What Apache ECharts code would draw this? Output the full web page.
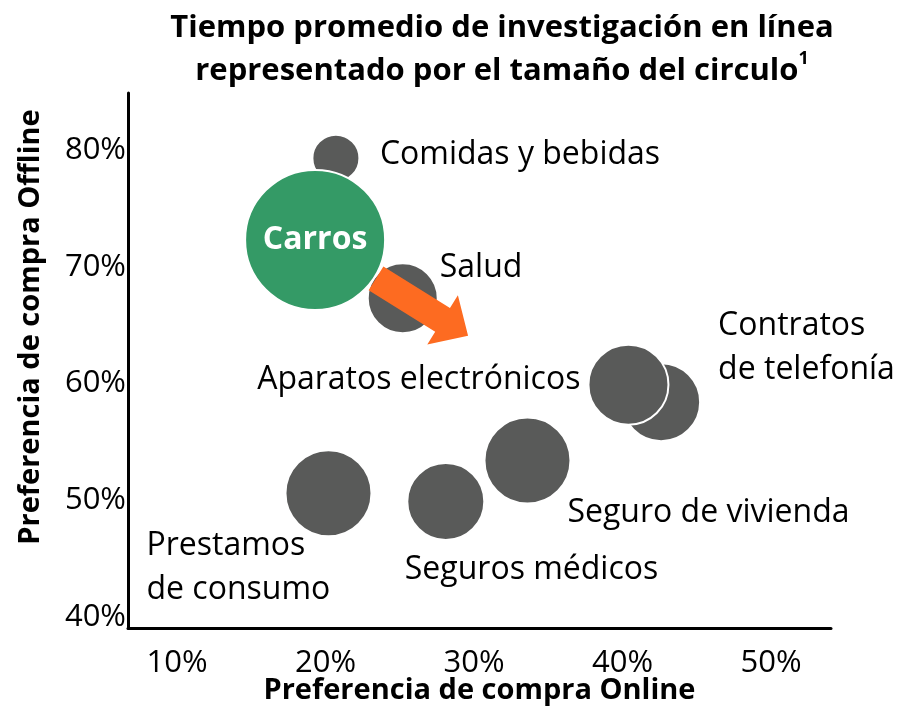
<!DOCTYPE html>
<html><head><meta charset="utf-8">
<script src="https://cdn.jsdelivr.net/npm/echarts@6/dist/echarts.min.js"></script>
<style>html,body{margin:0;padding:0;background:#fff}#c{width:901px;height:707px}</style>
</head><body><div id="c"></div>
<script>
// ---- data ----
const categorias = ['Comidas y bebidas', 'Salud', 'Contratos\nde telefonía', 'Aparatos electrónicos', 'Seguro de vivienda', 'Seguros médicos', 'Prestamos\nde consumo', 'Carros'];
const compraOnline = [20.7, 25.2, 42.6, 40.4, 33.6, 28.1, 20.2, 19.3];
const compraOffline = [79.3, 67.3, 58.4, 59.9, 53.4, 49.9, 50.6, 72.3];
const tiempoInvestigacion = [47, 70, 78, 80, 86, 77, 86, 140];
const xTicks = [10, 20, 30, 40, 50];
const yTicks = [40, 50, 60, 70, 80];
const flechaDesde = [23.4, 69.0];
const flechaHasta = [29.6, 64.1];

// ---- styling ----
const FONT = '"Open Sans"';
const GRAY = '#595a59';
const GREEN = '#349a66';
const ORANGE = '#fd6b21';
const labelCfg = {
  'Comidas y bebidas': { offset: [44, -3], align: 'left' },
  'Salud': { offset: [37, -30], align: 'left' },
  'Contratos\nde telefonía': { offset: [57, -54], align: 'left' },
  'Aparatos electrónicos': { offset: [-48, -5], align: 'right' },
  'Seguro de vivienda': { offset: [40, 52], align: 'left' },
  'Seguros médicos': { offset: [-41, 68], align: 'left' },
  'Prestamos\nde consumo': { offset: [-182, 75], align: 'left' }
};

const bubbleData = categorias.map((n, i) => {
  const isCar = n === 'Carros';
  const lc = labelCfg[n] || { offset: [0, 0], align: 'center' };
  return {
    name: n,
    value: [compraOnline[i], compraOffline[i], tiempoInvestigacion[i]],
    itemStyle: { color: isCar ? GREEN : GRAY },
    label: isCar ? {
      show: true, position: 'inside', formatter: '{b}', color: '#fff', fontWeight: 'bold', fontSize: 32, fontFamily: FONT
    } : {
      show: true, position: 'inside', formatter: '{b}', offset: lc.offset, align: lc.align, verticalAlign: 'middle',
      color: '#000', fontSize: 32, fontFamily: FONT, lineHeight: 44
    }
  };
});

const chart = echarts.init(document.getElementById('c'), null, { renderer: 'canvas' });
chart.setOption({
  animation: false,
  backgroundColor: '#fff',
  grid: { left: 128, right: 70, top: 93, bottom: 79, outerBoundsMode: 'none', containLabel: false },
  xAxis: {
    type: 'value', min: 6.70, max: 54.04,
    axisLine: { show: true, lineStyle: { color: '#000', width: 3 } },
    axisTick: { show: false }, splitLine: { show: false },
    axisLabel: { customValues: xTicks, formatter: '{value}%', color: '#000', fontSize: 31, fontFamily: FONT, margin: 20 },
    name: 'Preferencia de compra Online', nameLocation: 'middle', nameGap: 48, nameMoveOverlap: false,
    nameTextStyle: { color: '#000', fontSize: 29, fontWeight: 'bold', fontFamily: FONT }
  },
  yAxis: {
    type: 'value', min: 39.06, max: 84.88,
    axisLine: { show: true, lineStyle: { color: '#000', width: 3 } },
    axisTick: { show: false }, splitLine: { show: false },
    axisLabel: { customValues: yTicks, formatter: '{value}%', color: '#000', fontSize: 31, fontFamily: FONT, margin: 2 }
  },
  graphic: [
    {
      type: 'text', x: 502, y: 7, z: 10,
      style: {
        text: 'Tiempo promedio de investigación en línea\nrepresentado por el tamaño del circulo{sup|1}',
        font: 'bold 31px ' + FONT, fill: '#000', align: 'center', lineHeight: 43,
        rich: { sup: { fontSize: 18, fontWeight: 'bold', fontFamily: 'Open Sans', verticalAlign: 'top', padding: [0, 0, 14, 0], fill: '#000' } }
      }
    },
    {
      type: 'text', x: 31, y: 327, rotation: Math.PI / 2, z: 10,
      style: { text: 'Preferencia de compra Offline', font: 'bold 29px ' + FONT, fill: '#000', align: 'center', verticalAlign: 'middle' }
    }
  ],
  series: [
    {
      type: 'scatter',
      data: bubbleData,
      symbolSize: v => v[2],
      itemStyle: { borderColor: '#fff', borderWidth: 2, opacity: 1 },
      emphasis: { disabled: true }
    },
    {
      type: 'custom',
      data: [[flechaDesde[0], flechaDesde[1], flechaHasta[0], flechaHasta[1]]],
      encode: { x: [0, 2], y: [1, 3] },
      z: 5,
      renderItem: (params, api) => {
        const a = api.coord([api.value(0), api.value(1)]);
        const b = api.coord([api.value(2), api.value(3)]);
        const dx = b[0] - a[0], dy = b[1] - a[1];
        const L = Math.sqrt(dx * dx + dy * dy);
        const ux = dx / L, uy = dy / L, px = -uy, py = ux;
        const sw = 14, hw = 29, hl = 30;
        const hb = [b[0] - ux * hl, b[1] - uy * hl];
        const pts = [
          [a[0] + px * sw, a[1] + py * sw],
          [hb[0] + px * sw, hb[1] + py * sw],
          [hb[0] + px * hw, hb[1] + py * hw],
          [b[0], b[1]],
          [hb[0] - px * hw, hb[1] - py * hw],
          [hb[0] - px * sw, hb[1] - py * sw],
          [a[0] - px * sw, a[1] - py * sw]
        ];
        return { type: 'polygon', shape: { points: pts }, style: { fill: ORANGE } };
      }
    }
  ]
});
</script>
</body></html>
